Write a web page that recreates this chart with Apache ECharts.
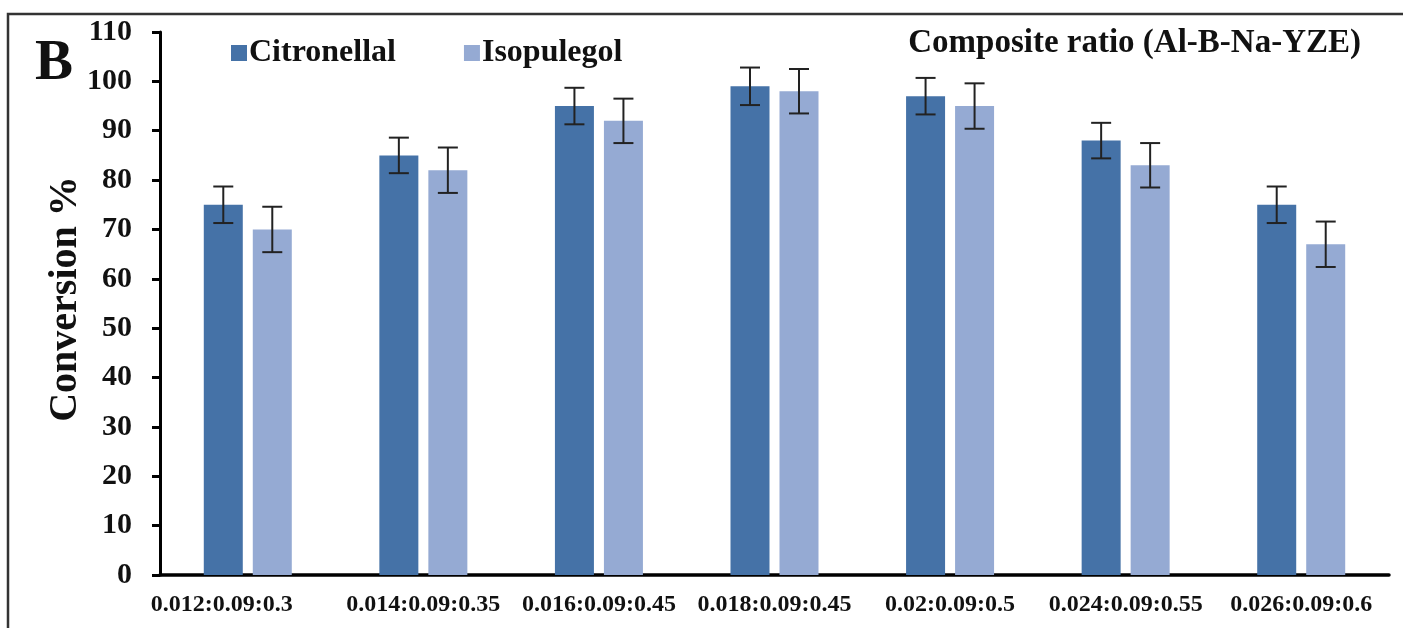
<!DOCTYPE html>
<html>
<head>
<meta charset="utf-8">
<script src="https://cdn.jsdelivr.net/npm/echarts@6/dist/echarts.min.js"></script>
<style>html,body{margin:0;padding:0;background:#fff;}#c{width:1403px;height:628px;}</style>
</head>
<body>
<div id="c"></div>
<script>
const categories = ['0.012:0.09:0.3','0.014:0.09:0.35','0.016:0.09:0.45','0.018:0.09:0.45','0.02:0.09:0.5','0.024:0.09:0.55','0.026:0.09:0.6'];
const citronellal = [75, 85, 95, 99, 97, 88, 75];
const isopulegol = [70, 82, 92, 98, 95, 83, 67];
const citronellalErr = [3.7, 3.6, 3.7, 3.8, 3.7, 3.6, 3.7];
const isopulegolErr = [4.6, 4.6, 4.5, 4.5, 4.6, 4.5, 4.6];
const yTicks = [0,10,20,30,40,50,60,70,80,90,100,110];
const yAxisName = 'Conversion %';

const FONT = '"Liberation Serif","Times New Roman",serif';
const BAR_W = 39, BAR_GAP = 10;

function errSeries(name, vals, errs, side) {
  return {
    type: 'custom',
    name: name + ' err',
    silent: true,
    z: 10,
    data: vals.map((v, i) => [i, v - errs[i], v + errs[i]]),
    renderItem: function (params, api) {
      const lo = api.coord([api.value(0), api.value(1)]);
      const hi = api.coord([api.value(0), api.value(2)]);
      const x = lo[0] + side * (BAR_W + BAR_GAP) / 2;
      const cap = 10;
      const st = { stroke: '#222', lineWidth: 2 };
      return {
        type: 'group',
        children: [
          { type: 'line', shape: { x1: x, y1: lo[1], x2: x, y2: hi[1] }, style: st },
          { type: 'line', shape: { x1: x - cap, y1: lo[1], x2: x + cap, y2: lo[1] }, style: st },
          { type: 'line', shape: { x1: x - cap, y1: hi[1], x2: x + cap, y2: hi[1] }, style: st }
        ]
      };
    }
  };
}

const chart = echarts.init(document.getElementById('c'));
chart.setOption({
  animation: false,
  backgroundColor: '#fff',
  textStyle: { fontFamily: FONT },
  title: {
    text: 'Composite ratio (Al-B-Na-YZE)',
    right: 37, top: 22,
    textStyle: { fontFamily: FONT, fontWeight: 'bold', fontSize: 33, color: '#111' }
  },
  legend: {
    data: ['Citronellal', 'Isopulegol'],
    left: 226, top: 32,
    itemWidth: 16, itemHeight: 16, itemGap: 68,
    icon: 'rect',
    textStyle: { fontFamily: FONT, fontWeight: 'bold', fontSize: 32, color: '#111', padding: [0,0,0,-3] }
  },
  graphic: [
    { type: 'rect', shape: { x: 8, y: 14, width: 1420, height: 660 }, style: { fill: 'none', stroke: '#333', lineWidth: 2.5 }, z: 100 },
    { type: 'text', left: 35, top: 36, style: { text: 'B', fontFamily: FONT, fontWeight: 'bold', fontSize: 57, fill: '#111' }, z: 100 },
    { type: 'text', x: 66, y: 299, rotation: Math.PI / 2, z: 100,
      style: { text: yAxisName, fontFamily: FONT, fontWeight: 'bold', fontSize: 40, fill: '#111', align: 'center', verticalAlign: 'middle' } }
  ],
  grid: { left: 160, right: 14, top: 32, bottom: 53 },
  xAxis: {
    type: 'category',
    data: categories,
    axisLine: { lineStyle: { color: '#000', width: 3.5 } },
    axisTick: { show: false },
    axisLabel: {
      fontFamily: FONT, fontWeight: 'bold', fontSize: 24, color: '#111', margin: 18, interval: 0,
      formatter: function (v, i) { return i === 0 ? '{f|' + v + '}' : v; },
      rich: { f: { fontFamily: FONT, fontWeight: 'bold', fontSize: 24, color: '#111', padding: [0, 52, 0, 0] } }
    }
  },
  yAxis: {
    type: 'value',
    min: yTicks[0], max: yTicks[yTicks.length - 1], interval: 10,
    axisLine: { show: true, lineStyle: { color: '#000', width: 3 } },
    axisTick: { show: true, length: 8, lineStyle: { color: '#000', width: 3 } },
    splitLine: { show: false },
    axisLabel: { fontFamily: FONT, fontWeight: 'bold', fontSize: 30, color: '#111', margin: 28 }
  },
  series: [
    { name: 'Citronellal', type: 'bar', data: citronellal, barWidth: BAR_W, barGap: (BAR_GAP / BAR_W * 100) + '%', itemStyle: { color: '#4572A7' } },
    { name: 'Isopulegol', type: 'bar', data: isopulegol, barWidth: BAR_W, itemStyle: { color: '#95AAD3' } },
    errSeries('Citronellal', citronellal, citronellalErr, -1),
    errSeries('Isopulegol', isopulegol, isopulegolErr, 1)
  ]
});
</script>
</body>
</html>
